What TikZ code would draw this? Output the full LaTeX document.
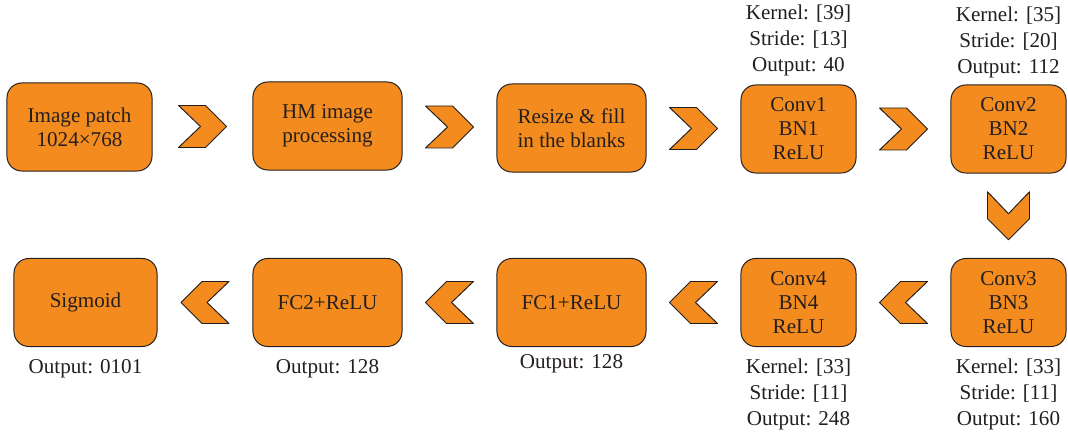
\documentclass[tikz,border=0pt]{standalone}
\usepackage{fontspec}
\setmainfont{Liberation Serif}
\usepackage{tikz}
\usetikzlibrary{calc,positioning}
\definecolor{boxorange}{RGB}{243,139,30}
\definecolor{edge}{RGB}{35,31,32}
\definecolor{ink}{RGB}{35,31,32}

\begin{document}
\begin{tikzpicture}[x=0.025cm,y=-0.025cm,line join=round,
  blk/.style={draw=edge,fill=boxorange,line width=0.7pt,rounded corners=0.37cm,minimum height=2.2cm,align=center,text=ink,font=\fontsize{15}{17}\selectfont},
  lbl/.style={align=center,inner sep=0pt,text=ink,font=\fontsize{15}{18.4}\selectfont},
  chev/.pic={\filldraw[draw=edge,fill=boxorange,line width=0.7pt] (-24,-21)--(3,-21)--(24,0)--(3,21)--(-24,21)--(-2,0)--cycle;}]
  \useasboundingbox (0,0) rectangle (1068,432);
  % top row
  \node[blk,minimum width=3.625cm] (img) at (79.5,127) {Image patch\\1024×768};
  \node[blk,minimum width=3.725cm] (hm) at (327.5,126) {HM image\\processing};
  \node[blk,minimum width=3.725cm] (rsz) at (571.5,128) {Resize \& fill\\in the blanks};
  \node[blk,minimum width=2.875cm] (cv1) at (798.5,129) {Conv1\\BN1\\ReLU};
  \node[blk,minimum width=2.875cm] (cv2) at (1008.5,129) {Conv2\\BN2\\ReLU};
  % bottom row
  \node[blk,minimum width=2.875cm] (cv3) at (1008.5,302.5) {Conv3\\BN3\\ReLU};
  \node[blk,minimum width=2.875cm] (cv4) at (798.5,302.5) {Conv4\\BN4\\ReLU};
  \node[blk,minimum width=3.725cm] (fc1) at (571.5,302.5) {FC1+ReLU};
  \node[blk,minimum width=3.725cm] (fc2) at (327.5,302.5) {FC2+ReLU};
  \node[blk,minimum width=3.575cm] (sig) at (85.5,302.5) {Sigmoid};
  % layer parameters
  \node[lbl,above=0.2cm of cv1] (cv1p) {Kernel: [39]\\Stride: [13]\\Output: 40};
  \node[lbl,above=0.15cm of cv2] (cv2p) {Kernel: [35]\\Stride: [20]\\Output: 112};
  \node[lbl,below=0.3cm of cv3] (cv3p) {Kernel: [33]\\Stride: [11]\\Output: 160};
  \node[lbl,below=0.3cm of cv4] (cv4p) {Kernel: [33]\\Stride: [11]\\Output: 248};
  \node[lbl,below=0.18cm of fc1] (fc1p) {Output: 128};
  \node[lbl,below=0.3cm of fc2] (fc2p) {Output: 128};
  \node[lbl,below=0.3cm of sig] (sigp) {Output: 0101};
  % chevrons
  \pic at ($(img.east)!0.5!(hm.west)$) {chev};
  \pic at ($(hm.east)!0.5!(rsz.west)$) {chev};
  \pic at ($(rsz.east)!0.5!(cv1.west)$) {chev};
  \pic at ($(cv1.east)!0.5!(cv2.west)$) {chev};
  \pic[rotate=-90] at ($(cv2.south)!0.5!(cv3.north)$) {chev};
  \pic[rotate=180] at ($(cv3.west)!0.5!(cv4.east)$) {chev};
  \pic[rotate=180] at ($(cv4.west)!0.5!(fc1.east)$) {chev};
  \pic[rotate=180] at ($(fc1.west)!0.5!(fc2.east)$) {chev};
  \pic[rotate=180] at ($(fc2.west)!0.5!(sig.east)$) {chev};
\end{tikzpicture}
\end{document}
